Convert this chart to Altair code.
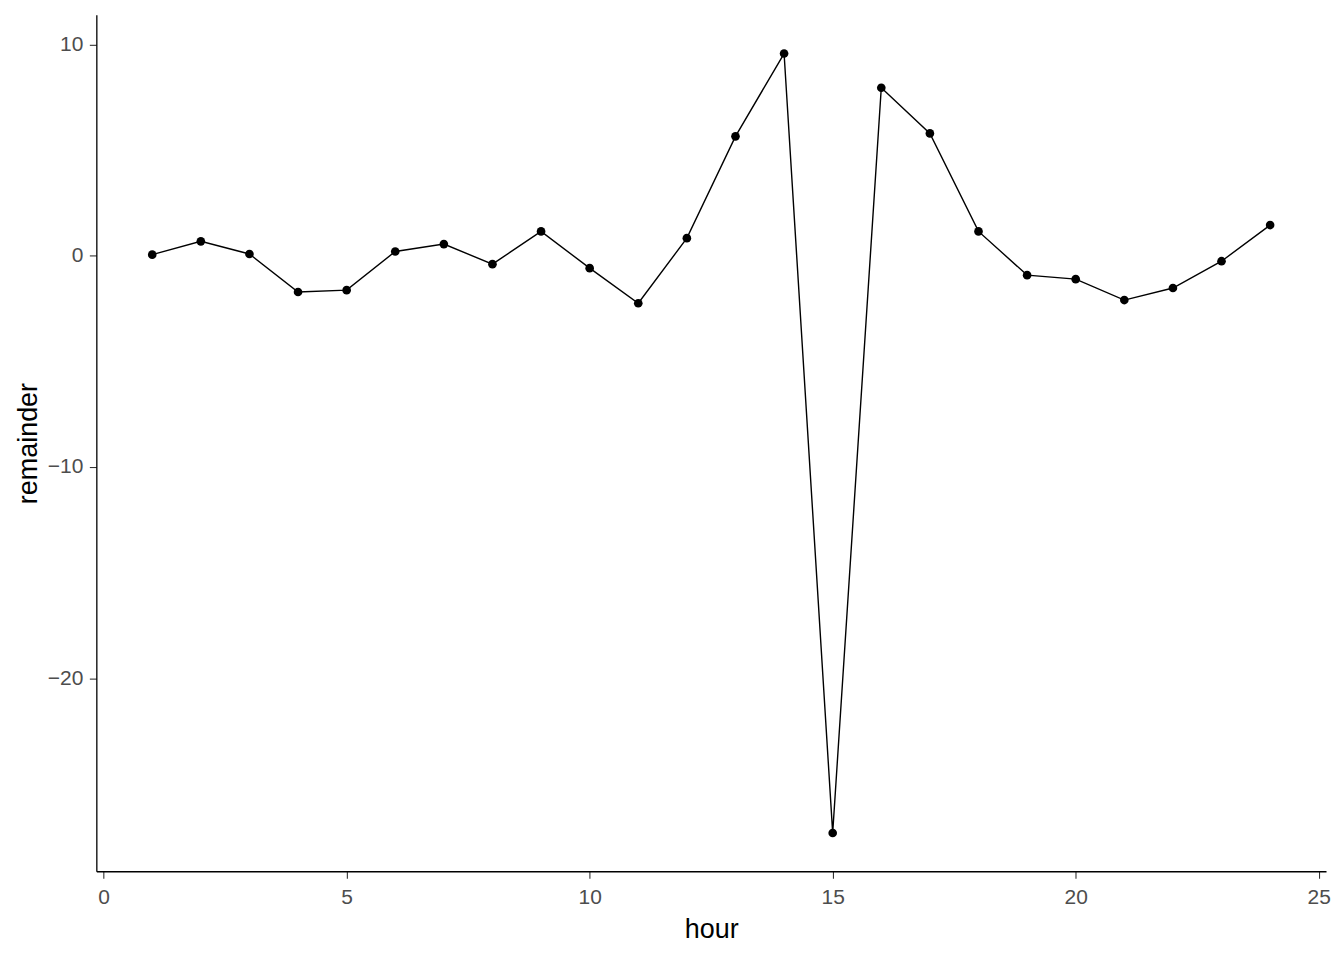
import altair as alt
import pandas as pd

hours = list(range(1, 25))
remainder = [0.05, 0.68, 0.08, -1.72, -1.63, 0.20, 0.55, -0.40, 1.15, -0.59,
             -2.25, 0.83, 5.65, 9.57, -27.33, 7.95, 5.79, 1.15, -0.92, -1.11,
             -2.10, -1.53, -0.26, 1.45]
x_ticks = [0, 5, 10, 15, 20, 25]
y_ticks = [-20, -10, 0, 10]

df = pd.DataFrame({"hour": hours, "remainder": remainder})

FONT = "Liberation Sans"

x = alt.X("hour:Q", title="hour",
          scale=alt.Scale(domain=[-0.15, 25.15], nice=False, zero=False),
          axis=alt.Axis(values=x_ticks, format="d",
                        titleBaseline="alphabetic",
                        titleY=66, labelPadding=8.5, labelBaseline="top"))
y = alt.Y("remainder:Q", title="remainder",
          scale=alt.Scale(domain=[-29.14, 11.40], nice=False, zero=False),
          axis=alt.Axis(values=y_ticks, format="d",
                        titleBaseline="alphabetic",
                        titleX=-60, labelPadding=6.5))

line = alt.Chart(df).mark_line(color="black", strokeWidth=1.4).encode(x=x, y=y)
pts = alt.Chart(df).mark_circle(color="black", size=75, opacity=1).encode(x=x, y=y)

chart = (line + pts).properties(
    width=1232, height=858,
    autosize=alt.AutoSizeParams(type="none"),
    padding={"left": 88.5, "top": 6, "right": 10, "bottom": 80},
    background="white",
).configure_view(stroke=None).configure_axis(
    grid=False,
    domainColor="black", domainWidth=1.3,
    tickColor="#333333", tickWidth=1.1, tickSize=7,
    labelColor="#4D4D4D", labelFont=FONT, labelFontSize=21,
    titleColor="black", titleFont=FONT, titleFontSize=27, titleFontWeight="normal",
)

chart.save("out.html", embed_options={"renderer": "svg", "actions": False})
